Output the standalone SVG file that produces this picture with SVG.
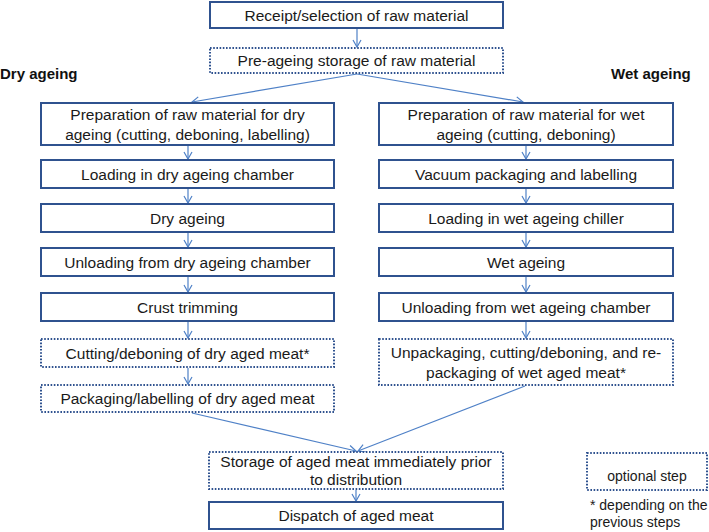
<svg xmlns="http://www.w3.org/2000/svg" width="709" height="532" viewBox="0 0 709 532">
<defs>
<style>
.b{fill:#fff;stroke:#2f528f;stroke-width:2}
.d{fill:#fff;stroke:#2f528f;stroke-width:2;stroke-dasharray:1.6 1.6}
.t{font-family:"Liberation Sans",Arial,sans-serif;font-size:15.5px;fill:#1a1a1a;text-anchor:middle}
.h{font-family:"Liberation Sans",Arial,sans-serif;font-size:15px;font-weight:bold;fill:#111}
.l{font-family:"Liberation Sans",Arial,sans-serif;font-size:14px;fill:#1a1a1a}
.c{stroke:#4f81c7;stroke-width:1.2;fill:none}
</style>
<marker id="a" markerWidth="10" markerHeight="10" refX="8" refY="5" orient="auto" markerUnits="userSpaceOnUse">
<polyline points="1,1 8,5 1,9" fill="none" stroke="#4f81c7" stroke-width="1.2"/>
</marker>
</defs>
<rect width="709" height="532" fill="#fff"/>
<g id="connectors" class="c" marker-end="url(#a)">
<line x1="357" y1="29" x2="357" y2="47"/>
<line x1="357" y1="74" x2="192" y2="102"/>
<line x1="357" y1="74" x2="523" y2="102"/>
<line x1="188" y1="146" x2="188" y2="159"/>
<line x1="188" y1="189" x2="188" y2="203"/>
<line x1="188" y1="233" x2="188" y2="247"/>
<line x1="188" y1="277" x2="188" y2="292"/>
<line x1="188" y1="322" x2="188" y2="338"/>
<line x1="188" y1="368" x2="188" y2="384"/>
<line x1="526" y1="146" x2="526" y2="159"/>
<line x1="526" y1="189" x2="526" y2="203"/>
<line x1="526" y1="233" x2="526" y2="247"/>
<line x1="526" y1="277" x2="526" y2="292"/>
<line x1="526" y1="322" x2="526" y2="338"/>
<line x1="192" y1="413" x2="356" y2="451"/>
<line x1="525" y1="386" x2="358" y2="451"/>
<line x1="356" y1="490" x2="356" y2="501"/>
</g>
<text class="h" x="0" y="79">Dry ageing</text>
<text class="h" x="611" y="79">Wet ageing</text>
<g id="n1"><rect class="b" x="210" y="2" width="293" height="26"/><text class="t" x="356.5" y="20.5">Receipt/selection of raw material</text></g>
<g id="n2"><rect class="d" x="210" y="48" width="293" height="25"/><text class="t" x="356.5" y="66">Pre-ageing storage of raw material</text></g>
<g id="d1"><rect class="b" x="41" y="103" width="293" height="42"/><text class="t" x="187.5" y="120">Preparation of raw material for dry</text><text class="t" x="187.5" y="139.5">ageing (cutting, deboning, labelling)</text></g>
<g id="d2"><rect class="b" x="41" y="160" width="293" height="28"/><text class="t" x="187.5" y="179.5">Loading in dry ageing chamber</text></g>
<g id="d3"><rect class="b" x="41" y="204" width="293" height="28"/><text class="t" x="187.5" y="223.5">Dry ageing</text></g>
<g id="d4"><rect class="b" x="41" y="248" width="293" height="28"/><text class="t" x="187.5" y="267.5">Unloading from dry ageing chamber</text></g>
<g id="d5"><rect class="b" x="41" y="293" width="293" height="28"/><text class="t" x="187.5" y="312.5">Crust trimming</text></g>
<g id="d6"><rect class="d" x="41" y="339" width="293" height="28"/><text class="t" x="187.5" y="358.5">Cutting/deboning of dry aged meat*</text></g>
<g id="d7"><rect class="d" x="41" y="385" width="293" height="27"/><text class="t" x="187.5" y="404">Packaging/labelling of dry aged meat</text></g>
<g id="w1"><rect class="b" x="379" y="103" width="294" height="42"/><text class="t" x="526" y="120">Preparation of raw material for wet</text><text class="t" x="526" y="139.5">ageing (cutting, deboning)</text></g>
<g id="w2"><rect class="b" x="379" y="160" width="294" height="28"/><text class="t" x="526" y="179.5">Vacuum packaging and labelling</text></g>
<g id="w3"><rect class="b" x="379" y="204" width="294" height="28"/><text class="t" x="526" y="223.5">Loading in wet ageing chiller</text></g>
<g id="w4"><rect class="b" x="379" y="248" width="294" height="28"/><text class="t" x="526" y="267.5">Wet ageing</text></g>
<g id="w5"><rect class="b" x="379" y="293" width="294" height="28"/><text class="t" x="526" y="312.5">Unloading from wet ageing chamber</text></g>
<g id="w6"><rect class="d" x="379" y="339" width="294" height="46"/><text class="t" x="526" y="358">Unpackaging, cutting/deboning, and re-</text><text class="t" x="526" y="378">packaging of wet aged meat*</text></g>
<g id="s1"><rect class="d" x="209" y="452" width="294" height="37"/><text class="t" x="356" y="467">Storage of aged meat immediately prior</text><text class="t" x="356" y="485">to distribution</text></g>
<g id="s2"><rect class="b" x="209" y="502" width="294" height="27"/><text class="t" x="356" y="521">Dispatch of aged meat</text></g>
<g id="legend"><rect class="d" x="587" y="453" width="120" height="37"/><text class="l" x="647" y="481" text-anchor="middle">optional step</text><text class="l" x="590" y="510">* depending on the</text><text class="l" x="590" y="527">previous steps</text></g>
</svg>
